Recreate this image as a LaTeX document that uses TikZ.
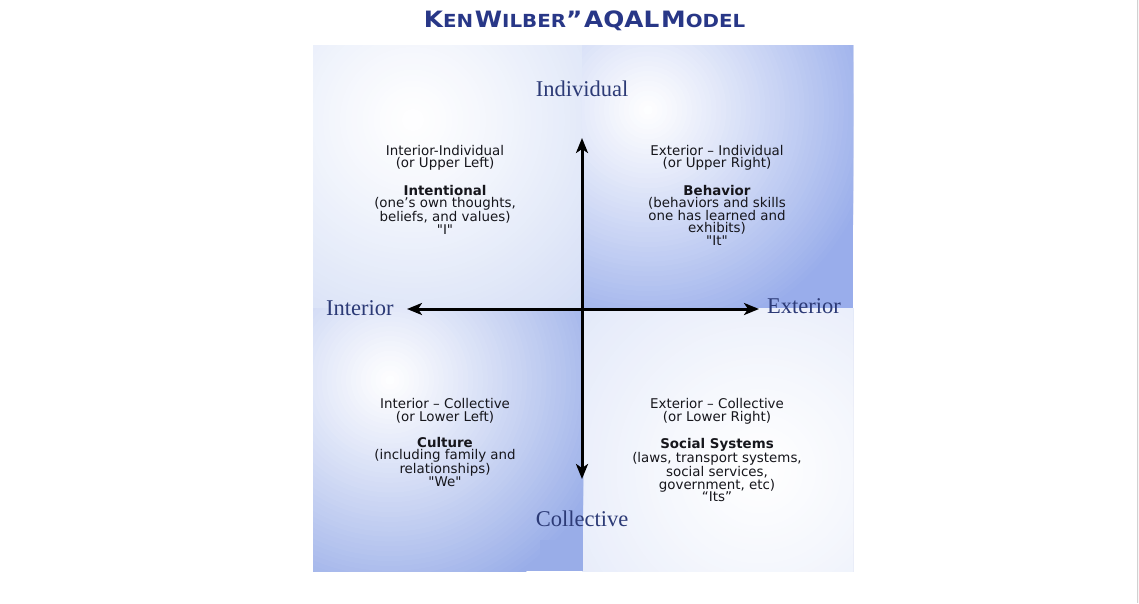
\documentclass[tikz,border=0pt]{standalone}
\usepackage{fontspec}
\usepackage{graphicx}
\setmainfont{DejaVu Sans}[Ligatures=TeXOff]
\newfontfamily\labfont{Liberation Serif}
\newfontfamily\titlefont{DejaVu Sans}
\usetikzlibrary{arrows.meta}

\definecolor{navy}{RGB}{40,55,135}
\definecolor{labblue}{RGB}{44,58,118}
\definecolor{txt}{RGB}{22,22,28}
\definecolor{ulout}{rgb}{0.82,0.86,0.96}
\definecolor{urout}{rgb}{0.60,0.68,0.92}
\definecolor{llout}{rgb}{0.60,0.68,0.91}
\definecolor{lrout}{rgb}{0.86,0.89,0.97}

% soft radial glow drawn as concentric discs: #1 centre, #2 radius, #3 outer colour, #4 exponent
\newcommand\glowdisc[4]{%
  \foreach \i in {48,47,...,1}{%
    \pgfmathsetmacro\pp{100*(\i/48)^#4}%
    \pgfmathsetmacro\rr{#2*\i/48}%
    \fill[#3!\pp!white] #1 circle[radius=\rr pt];
  }}

\newcommand\bigC[1]{{\fontsize{22.5}{24}\selectfont #1}}
\newcommand\smC[1]{{\fontsize{18}{20}\selectfont #1}}

\tikzset{
  quadtext/.style={anchor=north, inner sep=0pt, align=center, text=txt,
    font=\fontsize{13.4}{12.6}\selectfont},
  axislabel/.style={anchor=base, inner sep=0pt, text=labblue,
    font=\labfont\fontsize{22.5}{24}\selectfont},
  axisarrow/.style={line width=3pt, -{Stealth[length=15pt,width=12pt,inset=4pt]}}
}

\begin{document}
\begin{tikzpicture}[x=1pt,y=-1pt]
\useasboundingbox (0,0) rectangle (1139,603);
\fill[white] (0,0) rectangle (1139,603);
\fill[black!3] (1137,0) rectangle (1139,603);
\draw[black!18, line width=1pt] (1137,0) -- (1137,603);

% quadrants
\begin{scope}
\clip (313,45) rectangle (582.5,308.5);
\fill[ulout] (313,45) rectangle (582.5,308.5);
\glowdisc{(413,120)}{270}{ulout}{1.15}
\end{scope}
\begin{scope}
\clip (582,45) rectangle (853,308.5);
\fill[urout] (582,45) rectangle (853,308.5);
\glowdisc{(648,110)}{235}{urout}{1.1}
\end{scope}
\begin{scope}
\clip (582.5,308) rectangle (853,571);
\fill[lrout] (582.5,308) rectangle (853,571);
\glowdisc{(760,470)}{300}{lrout}{1.15}
\end{scope}
\begin{scope}
\clip (313,308) rectangle (583,571);
\fill[llout] (313,308) rectangle (583,571);
\glowdisc{(390,380)}{235}{llout}{1.1}
\fill[llout] (540,540) rectangle (583,571);
\end{scope}

% title
\node[anchor=base, inner sep=0pt, text=navy, font=\titlefont\bfseries] (title) at (584.5,27)
  {\scalebox{1.1}[1]{\bigC{K}\smC{EN}\,\bigC{W}\smC{ILBER}\bigC{”}\,\bigC{AQAL}\,\bigC{M}\smC{ODEL}}};

% axis labels
\node[axislabel] (ind) at (582,96) {Individual};
\node[axislabel, anchor=base west] (int) at (326,315) {Interior};
\node[axislabel, anchor=base west] (ext) at (767,313) {Exterior};
\node[axislabel] (col) at (582,526) {Collective};

% axes
\coordinate (O) at (582,309);
\coordinate (top) at (582,138);
\coordinate (bot) at (582,479);
\coordinate (lft) at (407,309);
\coordinate (rgt) at (759,309);
\draw[axisarrow] (O) -- (top);
\draw[axisarrow] (O) -- (bot);
\draw[axisarrow] (O) -- (lft);
\draw[axisarrow] (O) -- (rgt);

% quadrant texts
\node[quadtext] (ul) at (445,145) {Interior-Individual\\ (or Upper Left)\\[13.2pt]
  \textbf{Intentional}\\ (one’s own thoughts,\\ beliefs, and values)\\ "I"};
\node[quadtext] (ur) at (717,145) {Exterior – Individual\\ (or Upper Right)\\[13.2pt]
  \textbf{Behavior}\\ (behaviors and skills\\ one has learned and\\ exhibits)\\ "It"};
\node[quadtext] (ll) at (445,398.5) {Interior – Collective\\ (or Lower Left)\\[13.2pt]
  \textbf{Culture}\\ (including family and\\ relationships)\\ "We"};
\node[quadtext] (lr) at (717,398.5) {Exterior – Collective\\ (or Lower Right)\\[13.2pt]
  \textbf{Social Systems}\\ (laws, transport systems,\\ social services,\\ government, etc)\\ “Its”};
\end{tikzpicture}
\end{document}
